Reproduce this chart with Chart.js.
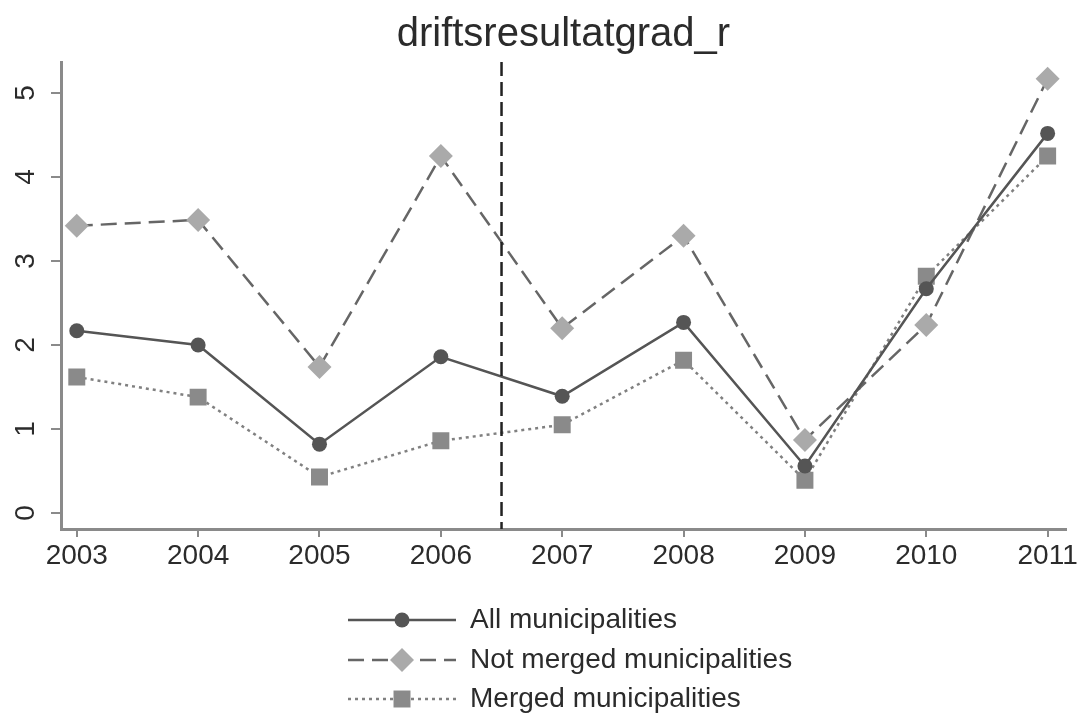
<!DOCTYPE html>
<html>
<head>
<meta charset="utf-8">
<script src="https://cdn.jsdelivr.net/npm/chart.js@4"></script>
<style>
  html, body { margin: 0; padding: 0; background: #fff; }
  #wrap { width: 1080px; height: 714px; }
</style>
</head>
<body>
<div id="wrap"><canvas id="chart" width="1080" height="714"></canvas></div>
<script>
// data
var years = [2003, 2004, 2005, 2006, 2007, 2008, 2009, 2010, 2011];
var allMunicipalities = [2.17, 2.00, 0.82, 1.86, 1.39, 2.27, 0.56, 2.67, 4.52];
var notMerged = [3.42, 3.49, 1.74, 4.25, 2.20, 3.30, 0.87, 2.24, 5.17];
var merged = [1.62, 1.38, 0.43, 0.86, 1.05, 1.82, 0.39, 2.82, 4.25];
var yTicks = [0, 1, 2, 3, 4, 5];
var reformLine = 2006.5;
var seriesLabels = ['All municipalities', 'Not merged municipalities', 'Merged municipalities'];

var FONT = "'Liberation Sans', Arial, sans-serif";
var TEXT = '#2b2b2b';
var AXIS = '#8a8a8a';

function points(vals) {
    return years.map(function (y, i) { return { x: y, y: vals[i] }; });
}

// vertical dashed line at the reform year
var reformPlugin = {
    id: 'reform',
    afterDatasetsDraw: function (chart) {
        var ctx = chart.ctx, a = chart.chartArea;
        var x = chart.scales.x.getPixelForValue(reformLine);
        ctx.save();
        ctx.strokeStyle = '#222';
        ctx.lineWidth = 2.5;
        ctx.setLineDash([14, 6]);
        ctx.beginPath();
        ctx.moveTo(x, a.top);
        ctx.lineTo(x, a.bottom);
        ctx.stroke();
        ctx.restore();
    }
};

// y labels turned 90 degrees, centred on their ticks (Stata style)
var yLabelPlugin = {
    id: 'yLabels',
    afterDraw: function (chart) {
        var ctx = chart.ctx, s = chart.scales.y;
        ctx.save();
        ctx.fillStyle = TEXT;
        ctx.font = '28px ' + FONT;
        ctx.textAlign = 'center';
        ctx.textBaseline = 'middle';
        yTicks.forEach(function (v) {
            ctx.save();
            ctx.translate(25, s.getPixelForValue(v));
            ctx.rotate(-Math.PI / 2);
            ctx.fillText(String(v), 0, 1);
            ctx.restore();
        });
        ctx.restore();
    }
};

// Stata-style legend: long line sample with marker in the middle
var legendPlugin = {
    id: 'stataLegend',
    afterDraw: function (chart) {
        var ctx = chart.ctx;
        var rows = [620, 660, 699];
        ctx.save();
        chart.data.datasets.forEach(function (ds, i) {
            var y = rows[i];
            ctx.strokeStyle = ds.borderColor;
            ctx.lineWidth = ds.borderWidth;
            ctx.setLineDash(ds.borderDash || []);
            ctx.beginPath();
            ctx.moveTo(348, y);
            ctx.lineTo(456, y);
            ctx.stroke();
            ctx.setLineDash([]);
            ctx.fillStyle = ds.pointBackgroundColor;
            ctx.beginPath();
            var r = ds.pointRadius;
            if (ds.pointStyle === 'circle') {
                ctx.arc(402, y, r, 0, Math.PI * 2);
            } else if (ds.pointStyle === 'rect') {
                var h = Math.SQRT1_2 * r;
                ctx.rect(402 - h, y - h, 2 * h, 2 * h);
            } else {
                ctx.moveTo(402, y - r); ctx.lineTo(402 + r, y);
                ctx.lineTo(402, y + r); ctx.lineTo(402 - r, y);
                ctx.closePath();
            }
            ctx.fill();
            ctx.fillStyle = TEXT;
            ctx.font = '28px ' + FONT;
            ctx.textBaseline = 'middle';
            ctx.fillText(ds.label, 470, y);
        });
        ctx.restore();
    }
};

new Chart(document.getElementById('chart'), {
    type: 'line',
    data: {
        datasets: [
            {
                label: seriesLabels[0],
                data: points(allMunicipalities),
                borderColor: '#555555',
                borderWidth: 2.5,
                pointStyle: 'circle',
                pointRadius: 7.5,
                pointBackgroundColor: '#555555',
                pointBorderColor: '#555555',
                pointBorderWidth: 0,
                tension: 0
            },
            {
                label: seriesLabels[1],
                data: points(notMerged),
                borderColor: '#666666',
                borderWidth: 2.5,
                borderDash: [16, 8],
                pointStyle: 'rectRot',
                pointRadius: 12,
                pointBackgroundColor: '#aaaaaa',
                pointBorderColor: '#aaaaaa',
                pointBorderWidth: 0,
                tension: 0
            },
            {
                label: seriesLabels[2],
                data: points(merged),
                borderColor: '#808080',
                borderWidth: 2.5,
                borderDash: [3, 4],
                pointStyle: 'rect',
                pointRadius: 12,
                pointBackgroundColor: '#8a8a8a',
                pointBorderColor: '#8a8a8a',
                pointBorderWidth: 0,
                tension: 0
            }
        ]
    },
    options: {
        responsive: false,
        animation: false,
        layout: { padding: { top: 0, right: 10, bottom: 0, left: 0 } },
        plugins: {
            legend: { display: false },
            tooltip: { enabled: false },
            title: {
                display: true,
                fullSize: false,
                text: 'driftsresultatgrad_r',
                color: TEXT,
                font: { family: FONT, size: 40, weight: 'normal' },
                padding: { top: 11, bottom: 3 }
            }
        },
        scales: {
            x: {
                type: 'linear',
                min: 2002.87,
                max: 2011.15,
                afterBuildTicks: function (s) { s.ticks = years.map(function (v) { return { value: v }; }); },
                afterFit: function (s) { s.height = 185; },
                grid: { drawOnChartArea: false, drawTicks: true, tickLength: 8, color: AXIS, lineWidth: 2 },
                border: { display: true, color: AXIS, width: 3 },
                ticks: {
                    color: TEXT,
                    font: { family: FONT, size: 28 },
                    padding: 2,
                    maxRotation: 0,
                    autoSkip: false,
                    callback: function (v) { return String(v); }
                }
            },
            y: {
                type: 'linear',
                min: -0.19,
                max: 5.37,
                afterBuildTicks: function (s) { s.ticks = yTicks.map(function (v) { return { value: v }; }); },
                afterFit: function (s) { s.width = 61; },
                grid: { drawOnChartArea: false, drawTicks: true, tickLength: 10, color: AXIS, lineWidth: 2 },
                border: { display: true, color: AXIS, width: 3 },
                ticks: { display: false }
            }
        }
    },
    plugins: [reformPlugin, yLabelPlugin, legendPlugin]
});
</script>
</body>
</html>
